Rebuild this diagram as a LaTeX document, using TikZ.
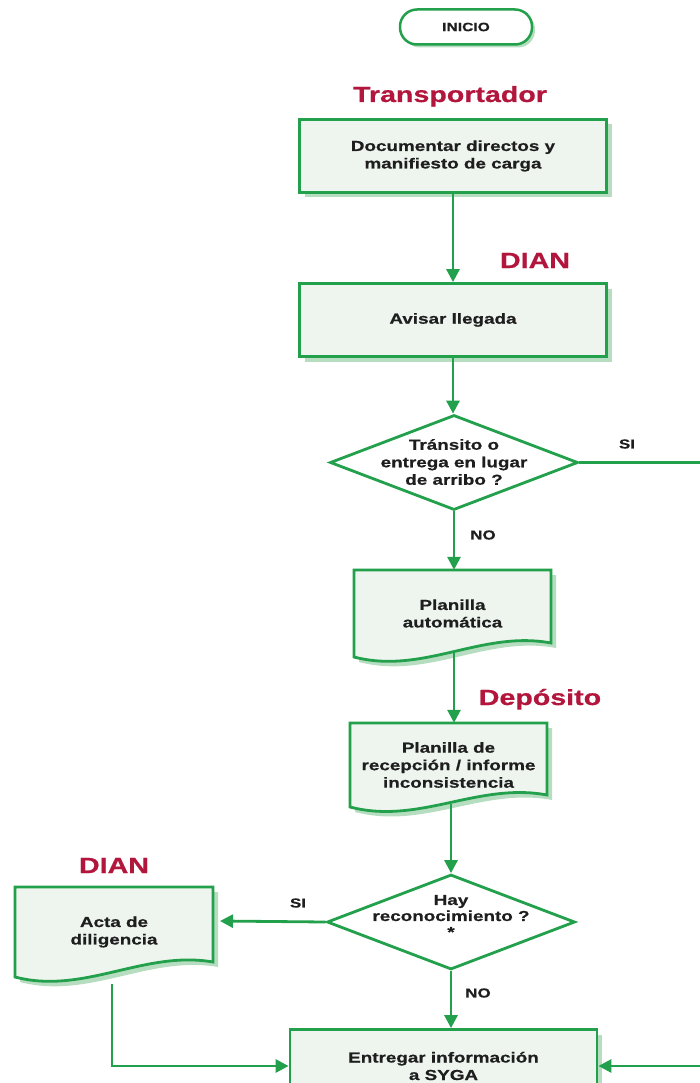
\documentclass[tikz,border=0pt]{standalone}
\usepackage{fontspec}
\setmainfont{Liberation Sans}
\newfontfamily\widefont[FakeStretch=1.3,FakeBold=0.6]{Liberation Sans}
\usetikzlibrary{shapes.geometric,arrows.meta,shadows}
\definecolor{lgreen}{HTML}{22A04B}
\definecolor{boxfill}{HTML}{EEF5EF}
\definecolor{shgreen}{HTML}{B7DDC1}
\definecolor{tred}{HTML}{B3163C}
\definecolor{txt}{HTML}{1E1E1E}
\tikzset{
  basetext/.style={font=\widefont\bfseries\fontsize{14.5}{17.5}\selectfont, text=txt, align=center},
  gshadow/.style={drop shadow={shadow xshift=5pt, shadow yshift=-5pt, fill=shgreen, opacity=1}},
  procbox/.style={basetext, draw=lgreen, line width=2.8pt, fill=boxfill, minimum width=307pt, minimum height=73pt, gshadow},
  startbox/.style={font=\widefont\bfseries\fontsize{12}{14}\selectfont, text=txt, draw=lgreen, line width=2.5pt, fill=white, rounded corners=17pt, minimum width=132pt, minimum height=35pt, drop shadow={shadow xshift=3pt, shadow yshift=-3pt, fill=shgreen, opacity=1}},
  decision/.style={diamond, draw=lgreen, line width=2.8pt, fill=white, minimum width=248pt, minimum height=95pt, inner sep=0pt},
  doctext/.style={basetext, inner sep=0pt},
  docshape/.style={draw=lgreen, line width=2.8pt, fill=boxfill, gshadow},
  title/.style={font=\widefont\bfseries\fontsize{22}{26}\selectfont, text=tred, anchor=base},
  lbl/.style={font=\widefont\bfseries\fontsize{13}{15}\selectfont, text=txt},
  flow/.style={draw=lgreen, line width=2.8pt, -{Triangle[length=13pt,width=13pt]}},
  link/.style={draw=lgreen, line width=2.8pt}
}
\begin{document}
\begin{tikzpicture}[x=1pt,y=-1pt]
\useasboundingbox (0,0) rectangle (700,1083);
\clip (0,0) rectangle (700,1083);
\fill[white] (0,0) rectangle (700,1083);

% start
\node[startbox] (inicio) at (466,27) {INICIO};

% titles
\node[title] (t1) at (450,102) {Transportador};
\node[title] (t2) at (535,268) {DIAN};
\node[title] (t3) at (540,705) {Depósito};
\node[title] (t4) at (114,873) {DIAN};

% process boxes
\node[procbox] (b1) at (453,156) {Documentar directos y\\manifiesto de carga};
\node[procbox] (b2) at (453,320) {Avisar llegada};

% decision 1
\node[decision] (d1) at (454,462.5) {};
\node[basetext, inner sep=0pt] (d1t) at (454,462) {Tránsito o\\entrega en lugar\\de arribo ?};

% document 1
\path[docshape] (354,570) -- (551,570) -- (551,643)
  .. controls (482,630) and (423,675) .. (354,657) -- cycle;
\node[doctext, minimum width=197pt, minimum height=87pt] (doc1) at (452.5,613.5) {Planilla\\automática};
\coordinate (doc1b) at (454,652);

% document 2
\path[docshape] (350,723) -- (547,723) -- (547,795)
  .. controls (478,782) and (419,825) .. (350,807) -- cycle;
\node[doctext, minimum width=197pt, minimum height=84pt] (doc2) at (448.5,765) {Planilla de\\recepción / informe\\inconsistencia};
\coordinate (doc2b) at (451,804);

% decision 2
\node[decision] (d2) at (451,922) {};
\node[basetext, inner sep=0pt, font=\widefont\bfseries\fontsize{14.5}{16}\selectfont] (d2t) at (451,916) {Hay\\reconocimiento ?\\*};

% acta document
\path[docshape] (15,887) -- (213,887) -- (213,962)
  .. controls (144,950) and (84,995) .. (15,977) -- cycle;
\node[doctext, minimum width=198pt, minimum height=90pt] (acta) at (114,932) {Acta de\\diligencia};
\coordinate (actae) at (220,921);
\coordinate (actab) at (112,984);

% final box
\node[procbox] (b3) at (443.5,1066) {Entregar información\\a SYGA};

% connectors
\draw[flow] (b1.south) -- (b1.south |- b2.north);
\draw[flow] (b2.south) -- (b2.south |- d1.north);
\draw[flow] (d1.south) -- (d1.south |- doc1.north);
\draw[flow] (doc1b) -- (doc1b |- doc2.north);
\draw[flow] (doc2b) -- (doc2b |- d2.north);
\draw[flow] (d2.west) -- (actae);
\draw[flow] (d2.south) -- (d2.south |- b3.north);
\coordinate (rightin) at (700,1066);
\coordinate (rightout) at (700,460);
\draw[link] (d1.east) -- (d1.east -| rightout);
\draw[flow] (rightin) -- (b3.east);
\draw[flow] (actab) -- (actab |- b3.west) -- (b3.west);

% labels
\node[lbl] (si1) at (627,444) {SI};
\node[lbl] (no1) at (483,535) {NO};
\node[lbl] (si2) at (298,903) {SI};
\node[lbl] (no2) at (478,993) {NO};
\end{tikzpicture}
\end{document}
